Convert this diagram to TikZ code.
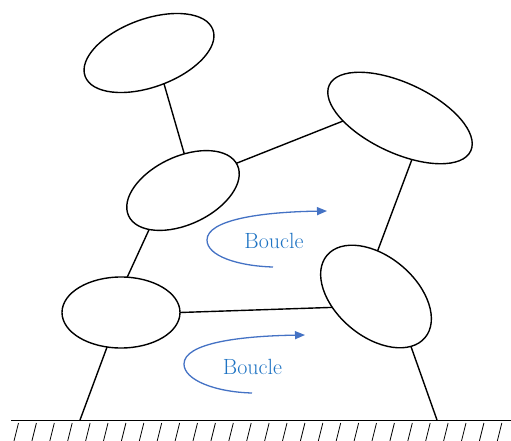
\documentclass[tikz,border=0pt]{standalone}
\usetikzlibrary{shapes.geometric,arrows.meta}
\definecolor{loopblue}{RGB}{68,114,196}
\definecolor{labelblue}{RGB}{30,115,195}
\begin{document}
\begin{tikzpicture}[x=1pt,y=-1pt,
  body/.style={ellipse,draw,line width=1.4pt,inner sep=0pt,outer sep=0pt},
  link/.style={line width=1.4pt},
  loop/.style={draw=loopblue,line width=1.3pt,-{Triangle[length=10pt,width=8pt]}},
  looplabel/.style={text=labelblue,font=\fontsize{22}{26}\selectfont},
  hatch/.style={line width=0.8pt}]
\useasboundingbox (0,0) rectangle (511,441);

% bodies
\node[body,minimum width=136pt,minimum height=68pt,rotate=20]  (head)  at (149,53) {};
\node[body,minimum width=156pt,minimum height=70pt,rotate=-25] (rtop)  at (400,118) {};
\node[body,minimum width=120pt,minimum height=68pt,rotate=25]  (mid)   at (183,190.5) {};
\node[body,minimum width=128pt,minimum height=80pt,rotate=-40] (rlow)  at (376,296.5) {};
\node[body,minimum width=118pt,minimum height=71pt]            (lleft) at (121,312.5) {};

% ground
\coordinate (gl) at (80,420);
\coordinate (gr) at (437,420);
\coordinate (gstart) at (11,420);
\coordinate (gend) at (511,420);
\draw[line width=1pt] (gstart) -- (gend);
\foreach \i in {0,...,27}
  \draw[hatch] ({14+17.9*\i},441) -- ++(4.5,-18);

% links
\draw[link] (head.276.6) -- (mid.63.5);
\draw[link] (mid.2) -- (rtop.208.6);
\draw[link] (mid.204.5) -- (lleft.80);
\draw[link] (rtop.311.5) -- (rlow.128.8);
\draw[link] (lleft.0) -- (rlow.234.6);
\draw[link] (lleft.248.5) -- (gl);
\draw[link] (rlow.345.3) -- (gr);

% loops
\coordinate (l1tail) at (273,267);
\coordinate (l1left) at (207,240);
\coordinate (l1tip)  at (327,211);
\draw[loop] (l1tail) .. controls (238,266) and (207,256) .. (l1left)
            .. controls (207,220) and (260,212) .. (l1tip);
\node[looplabel] (lab1) at (274,241) {Boucle};

\coordinate (l2tail) at (252,393);
\coordinate (l2left) at (184,364);
\coordinate (l2tip)  at (305,335);
\draw[loop] (l2tail) .. controls (215,392) and (184,380) .. (l2left)
            .. controls (184,343) and (240,336) .. (l2tip);
\node[looplabel] (lab2) at (252.5,367) {Boucle};
\end{tikzpicture}
\end{document}
